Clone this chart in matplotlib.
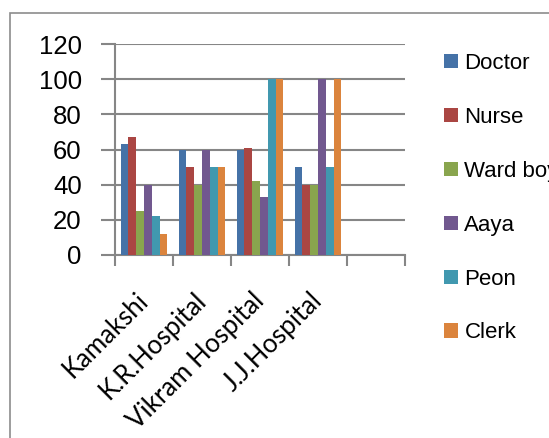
import numpy as np
import matplotlib.pyplot as plt
import matplotlib.transforms as mtransforms
from matplotlib.patches import Rectangle

hospitals = ['Kamakshi', 'K.R.Hospital', 'Vikram Hospital', 'J.J.Hospital', '']
staff = ['Doctor', 'Nurse', 'Ward boy', 'Aaya', 'Peon', 'Clerk']
doctor = [63, 60, 60, 50]
nurse = [67, 50, 61, 40]
ward_boy = [25, 40, 42, 40]
aaya = [40, 60, 33, 100]
peon = [22, 50, 100, 50]
clerk = [12, 50, 100, 100]
colors = ['#4572A7', '#AA4643', '#89A54E', '#71588F', '#4198AF', '#DB843D']

series = [doctor, nurse, ward_boy, aaya, peon, clerk]

fig = plt.figure(figsize=(5.49, 4.38), dpi=100)
ax = fig.add_axes([115/549, 1 - 255/438, 290/549, 211/438])

# outer frame of the chart area
fig.patches.append(Rectangle((10/549, -0.2), 1.2, 1 - 13/438 + 0.2,
                             transform=fig.transFigure, fill=False,
                             edgecolor='#8c8c8c', lw=1.2))

n = len(series)
w = 0.135
centers = np.arange(len(doctor)) + 0.5
for i, (vals, c) in enumerate(zip(series, colors)):
    xs = centers + (i - (n - 1) / 2) * w
    ax.bar(xs, vals, width=w, color=c, label=staff[i], zorder=3)

ax.set_xlim(0, len(hospitals))
ax.set_ylim(0, 120)
ax.set_yticks(range(0, 121, 20))
ax.set_yticklabels([str(v) for v in range(0, 121, 20)],
                   fontsize=18.5, family='Liberation Sans')
ax.yaxis.grid(True, color='#868686', lw=1.5, zorder=0)
ax.set_axisbelow(True)

ax.set_xticks(range(len(hospitals) + 1))
ax.set_xticklabels([])
ax.set_xticks(np.arange(len(hospitals)) + 0.5, minor=True)
labels = ax.set_xticklabels(hospitals, minor=True, rotation=45, ha='right',
                            va='center', rotation_mode='anchor',
                            fontsize=18.5, family='Lato')
shift = mtransforms.ScaledTranslation(-6/100, 0, fig.dpi_scale_trans)
for lb in labels:
    lb.set_transform(lb.get_transform() + shift)
ax.tick_params(axis='x', which='minor', length=0, pad=30)
ax.tick_params(axis='x', which='major', length=8, width=1.5, color='#868686')
ax.tick_params(axis='y', length=10, width=1.5, color='#868686', pad=14)

for s in ['top', 'right']:
    ax.spines[s].set_visible(False)
for s in ['left', 'bottom']:
    ax.spines[s].set_color('#868686')
    ax.spines[s].set_linewidth(1.5)

ax.legend(loc='upper left', bbox_to_anchor=(444/549, 1 - 53/438),
          bbox_transform=fig.transFigure, frameon=False,
          prop={'family': 'Liberation Sans', 'size': 16},
          handlelength=0.62, handleheight=0.62, handletextpad=0.3,
          labelspacing=1.48, borderaxespad=0, borderpad=0)

fig.savefig('out.png', dpi=100)
